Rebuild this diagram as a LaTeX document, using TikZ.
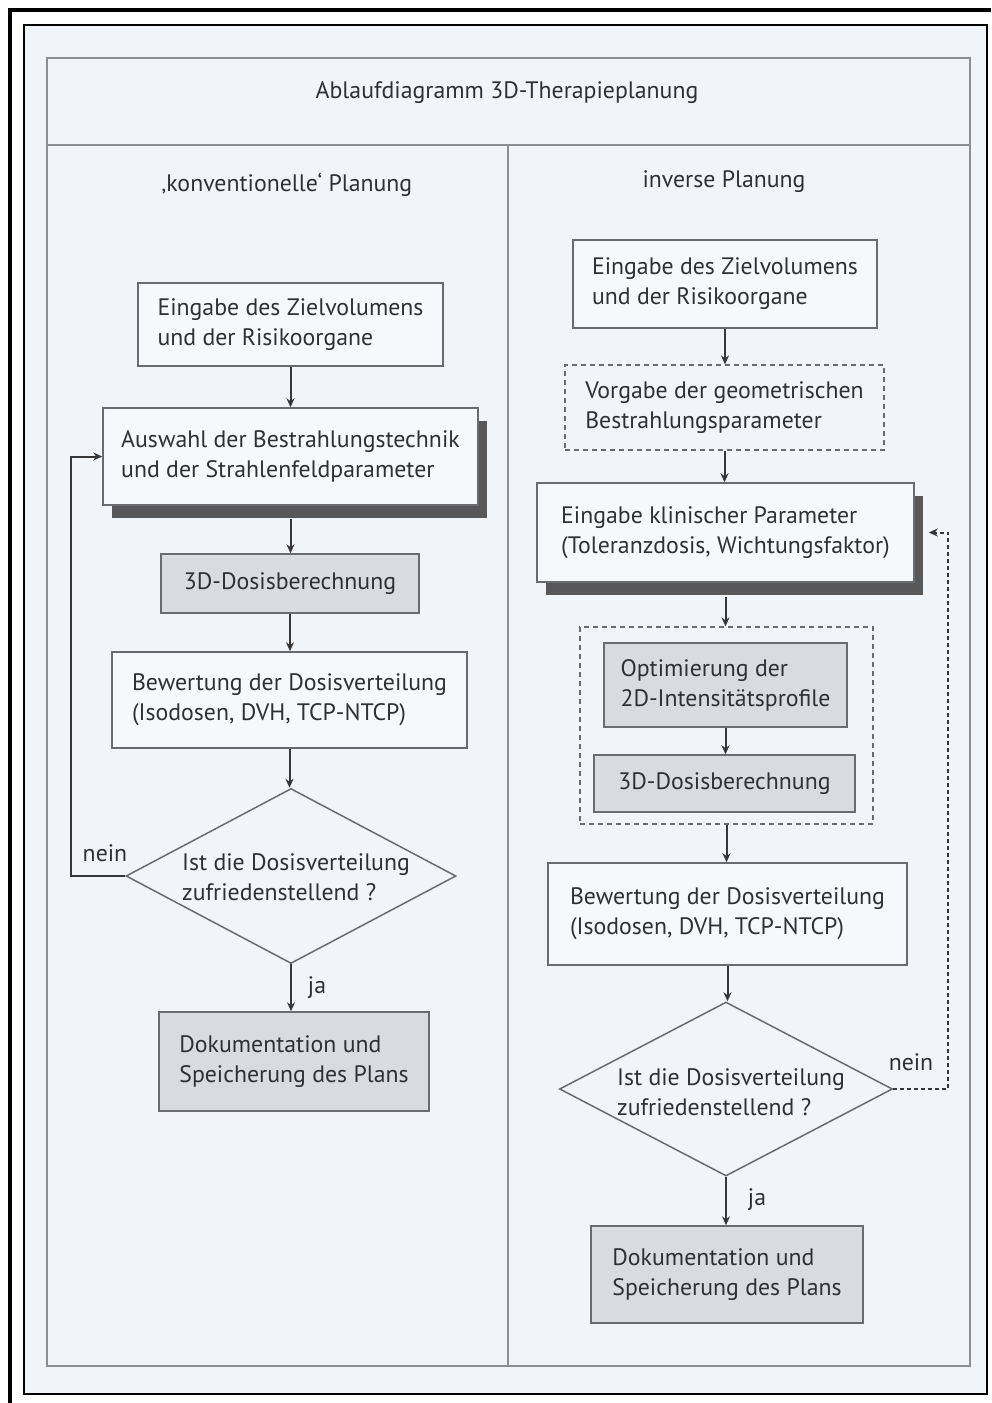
\documentclass[tikz,border=0pt]{standalone}
\usepackage{fontspec}
\setmainfont{PT Sans}
\usetikzlibrary{arrows.meta,shapes.geometric,shadows,calc}
\definecolor{bg}{RGB}{241,245,250}
\definecolor{framec}{RGB}{140,142,146}
\definecolor{boxc}{RGB}{105,107,111}
\definecolor{boxw}{RGB}{246,248,251}
\definecolor{boxg}{RGB}{216,220,225}
\definecolor{shc}{RGB}{88,88,90}
\definecolor{txt}{RGB}{48,48,52}
\definecolor{arrc}{RGB}{55,55,58}
\begin{document}
\begin{tikzpicture}[x=1pt,y=-1pt,
  font=\fontsize{23.8}{30}\selectfont,
  box/.style={draw=boxc,line width=1.5pt,fill=boxw,text=txt,align=left,inner sep=0pt},
  gbox/.style={box,fill=boxg},
  shbox/.style={box,drop shadow={shadow xshift=9pt,shadow yshift=-13pt,fill=shc,opacity=1}},
  dbox/.style={draw=boxc,line width=1.2pt,dash pattern=on 5pt off 4pt,text=txt,align=left,inner sep=0pt},
  decision/.style={draw=boxc,line width=1.5pt,diamond,inner sep=0pt},
  dtext/.style={text=txt,align=left,inner sep=0pt},
  arr/.style={draw=arrc,line width=2pt,-{Stealth[length=9pt,width=8pt]}},
  backarr/.style={arr,dash pattern=on 4pt off 3pt},
  lbl/.style={text=txt,inner sep=0pt}
]
\useasboundingbox (0,0) rectangle (991,1403);
\fill[white] (0,0) rectangle (991,1403);
% outer scan frame
\draw[line width=2pt,fill=bg] (24,25) rectangle (987,1394);
\draw[line width=4pt] (8,10) -- (991,10);
\draw[line width=4pt] (10,8) -- (10,1403);
% diagram frame
\draw[framec,line width=2pt] (47,58) rectangle (970,1366);
\draw[framec,line width=2pt] (47,145) -- (970,145);
\draw[framec,line width=2pt] (508,145) -- (508,1366);

\node[lbl] (title) at (507,93) {Ablaufdiagramm 3D-Therapieplanung};
\node[lbl] (hl) at (287,185) {‚konventionelle‘ Planung};
\node[lbl] (hr) at (724,182) {inverse Planung};

% left column
\node[box,minimum width=305pt,minimum height=83pt] (l1) at (290.5,324.5)
  {Eingabe des Zielvolumens\\und der Risikoorgane};
\node[shbox,minimum width=375pt,minimum height=97pt] (l2) at (290.5,456.5)
  {Auswahl der Bestrahlungstechnik\\und der Strahlenfeldparameter};
\node[gbox,minimum width=258pt,minimum height=59pt] (l3) at (290,583.5)
  {3D-Dosisberechnung};
\node[box,minimum width=355pt,minimum height=96pt] (l4) at (289.5,700)
  {Bewertung der Dosisverteilung\\(Isodosen, DVH, TCP-NTCP)};
\node[decision,minimum width=330pt,minimum height=175pt] (dl) at (291,876) {};
\node[dtext] (dlt) at (296,877) {Ist die Dosisverteilung\\zufriedenstellend ?};
\node[gbox,minimum width=270pt,minimum height=99pt] (l5) at (294,1061.5)
  {Dokumentation und\\Speicherung des Plans};
\node[lbl] (neinl) at (105,853) {nein};
\node[lbl] (jal) at (317,988) {ja};

\coordinate (l2b) at ([yshift=-13pt]l2.south);
\draw[arr] (l1.south) -- (l1.south |- l2.north);
\draw[arr] (l2b) -- (l2b |- l3.north);
\draw[arr] (l3.south) -- (l3.south |- l4.north);
\draw[arr] (l4.south) -- (l4.south |- dl.north);
\draw[arr] (dl.south) -- (dl.south |- l5.north);
\draw[arr] (dl.west) -- ++(-54,0) |- (l2.west);

% right column
\node[box,minimum width=304pt,minimum height=88pt] (r1) at (725,284)
  {Eingabe des Zielvolumens\\und der Risikoorgane};
\node[dbox,minimum width=319pt,minimum height=85pt] (r2) at (724.5,407.5)
  {Vorgabe der geometrischen\\Bestrahlungsparameter};
\node[shbox,minimum width=377pt,minimum height=99pt] (r3) at (725.5,532.5)
  {Eingabe klinischer Parameter\\(Toleranzdosis, Wichtungsfaktor)};
\node[dbox,minimum width=293pt,minimum height=197pt] (rc) at (726.5,725.5) {};
\node[gbox,minimum width=243pt,minimum height=84pt] (r4) at (725.5,685)
  {Optimierung der\\2D-Intensitätsprofile};
\node[gbox,minimum width=261pt,minimum height=57pt] (r5) at (724.5,783.5)
  {3D-Dosisberechnung};
\node[box,minimum width=359pt,minimum height=102pt] (r6) at (727.5,914)
  {Bewertung der Dosisverteilung\\(Isodosen, DVH, TCP-NTCP)};
\node[decision,minimum width=333pt,minimum height=174pt] (dr) at (726,1089) {};
\node[dtext] (drt) at (731,1092) {Ist die Dosisverteilung\\zufriedenstellend ?};
\node[gbox,minimum width=272pt,minimum height=97pt] (r7) at (727,1274.5)
  {Dokumentation und\\Speicherung des Plans};
\node[lbl] (neinr) at (911,1062) {nein};
\node[lbl] (jar) at (757,1200) {ja};

\coordinate (r3b) at ([yshift=-14pt]r3.south);
\coordinate (r3in) at ([xshift=14pt]r3.east);
\draw[arr] (r1.south) -- (r1.south |- r2.north);
\draw[arr] (r2.south) -- (r2.south |- r3.north);
\draw[arr] (r3b) -- (r3b |- rc.north);
\draw[arr] (r4.south) -- (r4.south |- r5.north);
\draw[arr] (rc.south) -- (rc.south |- r6.north);
\draw[arr] (r6.south) -- (r6.south |- dr.north);
\draw[arr] (dr.south) -- (dr.south |- r7.north);
\draw[backarr] (dr.east) -- ++(55,0) |- (r3in);
\end{tikzpicture}
\end{document}
